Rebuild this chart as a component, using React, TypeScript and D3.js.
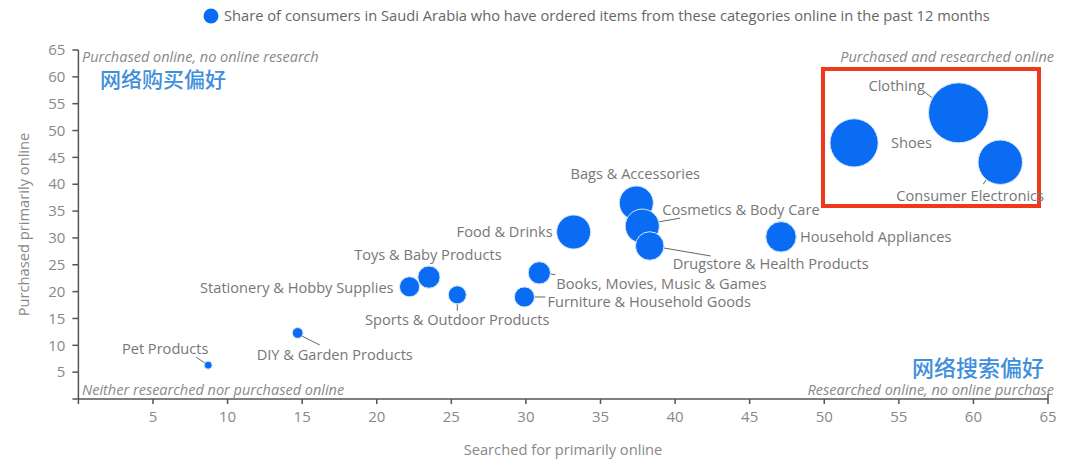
import React from 'react';
import * as d3 from 'd3';

// category data
const categories = [
  'Clothing', 'Shoes', 'Consumer Electronics', 'Household Appliances',
  'Bags & Accessories', 'Cosmetics & Body Care', 'Drugstore & Health Products',
  'Food & Drinks', 'Books, Movies, Music & Games', 'Furniture & Household Goods',
  'Toys & Baby Products', 'Stationery & Hobby Supplies', 'Sports & Outdoor Products',
  'DIY & Garden Products', 'Pet Products',
];
const searched = [59.0, 52.0, 61.8, 47.1, 37.4, 37.8, 38.3, 33.2, 30.9, 29.9, 23.5, 22.2, 25.4, 14.7, 8.7];
const purchased = [53.3, 47.7, 44.1, 30.2, 36.5, 32.2, 28.5, 31.1, 23.5, 19.0, 22.7, 20.9, 19.4, 12.3, 6.3];
const share = [62, 40, 34, 16, 20, 20, 14, 20, 8.5, 7, 8.5, 7, 5.6, 2, 1.1];

const xTicks = [5, 10, 15, 20, 25, 30, 35, 40, 45, 50, 55, 60, 65];
const yTicks = [5, 10, 15, 20, 25, 30, 35, 40, 45, 50, 55, 60, 65];

// label placement relative to the bubble centre (layout only)
type Place = { dx: number; dy: number; anchor: string; leader?: number[] };
const placement: Place[] = [
  { dx: -90, dy: -27, anchor: 'start', leader: [-34, -21, -25, -14] },
  { dx: 37, dy: 0, anchor: 'start' },
  { dx: -104, dy: 34, anchor: 'start', leader: [-17, 22, -13, 16] },
  { dx: 19, dy: 0, anchor: 'start' },
  { dx: -1, dy: -29, anchor: 'middle' },
  { dx: 20, dy: -16, anchor: 'start', leader: [15, -4, 38, -8] },
  { dx: 23, dy: 18, anchor: 'start', leader: [14, 2, 61, 10] },
  { dx: -21, dy: 0, anchor: 'end' },
  { dx: 17, dy: 11, anchor: 'start', leader: [11, 1, 16, 2] },
  { dx: 23, dy: 5, anchor: 'start', leader: [10, 0, 21, 0] },
  { dx: -1, dy: -22, anchor: 'middle' },
  { dx: -16, dy: 1, anchor: 'end' },
  { dx: 0, dy: 25, anchor: 'middle', leader: [0, 9, 0, 16] },
  { dx: -41, dy: 22, anchor: 'start', leader: [2, 2, 22, 12] },
  { dx: -43, dy: -16, anchor: 'middle', leader: [-12, -8, -3, -2] },
];

const W = 1080;
const H = 463;
const FONT = '"Open Sans", "Noto Sans", sans-serif';
const CJK = '"Noto Sans CJK SC", sans-serif';
const BLUE = '#0a6cf2';

const App = () => {
  const x = d3.scaleLinear().domain([0, 65]).range([78.4, 1048]);
  const y = d3.scaleLinear().domain([0, 65]).range([399, 50]);
  const r = d3.scaleSqrt().domain([0, d3.max(share) as number]).range([0, 30]);

  const rows = categories.map((c, i) => ({
    name: c, sx: searched[i], py: purchased[i], s: share[i], p: placement[i],
  }));

  return (
    <svg width={W} height={H} style={{ position: 'absolute', left: 0, top: 0, background: '#fff' }}
      fontFamily={FONT}>
      {/* legend */}
      <circle cx={211} cy={16} r={7.5} fill={BLUE} />
      <text x={224} y={21} fontSize={14.7} fill="#666">
        Share of consumers in Saudi Arabia who have ordered items from these categories online in the past 12 months
      </text>

      {/* axes */}
      <line x1={x(0)} x2={x(0)} y1={y(65)} y2={y(0)} stroke="#555" strokeWidth={1.5} />
      <line x1={x(0)} x2={x(65)} y1={y(0)} y2={y(0)} stroke="#555" strokeWidth={1.5} />
      <line x1={x(0) - 6} x2={x(0)} y1={y(0)} y2={y(0)} stroke="#555" strokeWidth={1.5} />
      <line x1={x(0)} x2={x(0)} y1={y(0)} y2={y(0) + 5} stroke="#555" strokeWidth={1.5} />
      {yTicks.map(t => (
        <g key={'y' + t}>
          <line x1={x(0) - 6} x2={x(0)} y1={y(t)} y2={y(t)} stroke="#555" strokeWidth={1.5} />
          <text x={x(0) - 13} y={y(t)} dy="0.35em" textAnchor="end" fontSize={15} fill="#888">{t}</text>
        </g>
      ))}
      {xTicks.map(t => (
        <g key={'x' + t}>
          <line x1={x(t)} x2={x(t)} y1={y(0) - (t === 65 ? 5 : 0)} y2={y(0) + 5} stroke="#555" strokeWidth={1.5} />
          <text x={x(t)} y={y(0) + 23} textAnchor="middle" fontSize={15} fill="#888">{t}</text>
        </g>
      ))}
      <text transform={`translate(29,${(y(0) + y(65)) / 2}) rotate(-90)`} textAnchor="middle"
        fontSize={14.7} fill="#888">Purchased primarily online</text>
      <text x={563} y={455} textAnchor="middle" fontSize={14.7} fill="#888">Searched for primarily online</text>

      {/* quadrant captions */}
      <g fontSize={14.5} fill="#888" fontStyle="italic">
        <text x={82} y={62}>Purchased online, no online research</text>
        <text x={1054} y={62} textAnchor="end">Purchased and researched online</text>
        <text x={82} y={395}>Neither researched nor purchased online</text>
        <text x={1054} y={395} textAnchor="end">Researched online, no online purchase</text>
      </g>
      <text x={100} y={87} fontSize={21} fill="#3f8fdc" fontWeight={500} fontFamily={CJK}>网络购买偏好</text>
      <text x={1044} y={376} textAnchor="end" fontSize={22} fill="#3f8fdc" fontWeight={500} fontFamily={CJK}>网络搜索偏好</text>

      {/* highlight box */}
      <rect x={823} y={69} width={216} height={137} fill="none" stroke="#f0391a" strokeWidth={4} />

      {/* leaders */}
      {rows.filter(d => d.p.leader).map(d => {
        const cx = x(d.sx), cy = y(d.py), l = d.p.leader as number[];
        return <line key={'l' + d.name} x1={cx + l[0]} y1={cy + l[1]} x2={cx + l[2]} y2={cy + l[3]}
          stroke="#666" strokeWidth={1} />;
      })}

      {/* bubbles */}
      {rows.map(d => (
        <circle key={'c' + d.name} cx={x(d.sx)} cy={y(d.py)} r={r(d.s)} fill={BLUE}
          stroke="#d6e8ff" strokeWidth={1} />
      ))}

      {/* labels */}
      {rows.map(d => (
        <text key={'t' + d.name} x={x(d.sx) + d.p.dx} y={y(d.py) + d.p.dy} dy="0.35em"
          textAnchor={d.p.anchor} fontSize={14.6} fill="#777">{d.name}</text>
      ))}
    </svg>
  );
};

export default App;
